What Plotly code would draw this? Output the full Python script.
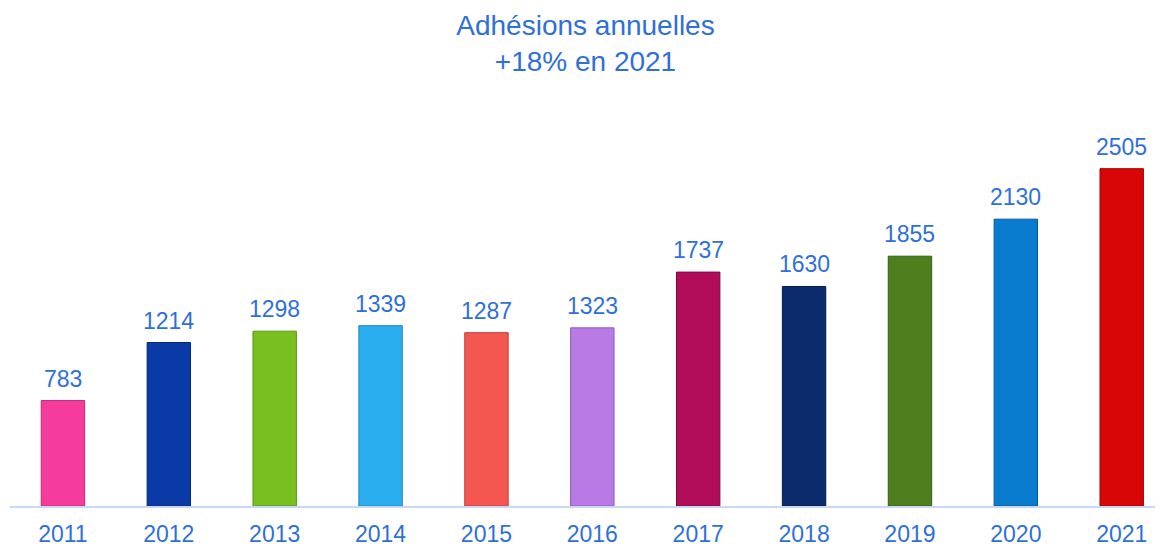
import plotly.graph_objects as go

years = ["2011", "2012", "2013", "2014", "2015", "2016", "2017", "2018", "2019", "2020", "2021"]
adhesions = [783, 1214, 1298, 1339, 1287, 1323, 1737, 1630, 1855, 2130, 2505]
bar_colors = ["#f53c9c", "#0a3aa6", "#78c020", "#2aaef0", "#f4574f", "#b97ae6",
              "#b00c5a", "#0b2a6c", "#4e7e1e", "#0a7ccf", "#d80606"]
edge_colors = ["#c02a78", "#062a7a", "#5a9416", "#1a86c0", "#c23c36", "#8e5ab8",
               "#7e0840", "#071c4c", "#375c14", "#06589a", "#9e0404"]

blue = "#2f6fd9"

fig = go.Figure(go.Bar(
    x=years,
    y=adhesions,
    width=0.41,
    marker=dict(color=bar_colors, line=dict(color=edge_colors, width=1)),
))

# value labels above the bars, with a bit more room than plotly's outside text
# (category index for x: year-like strings get read as numbers in annotations)
for i, val in enumerate(adhesions):
    fig.add_annotation(
        x=i, y=val, text=str(val), showarrow=False,
        yanchor="bottom", yshift=7,
        font=dict(color=blue, size=23, family="Liberation Sans"),
    )

# page body adds an 8px margin, so the figure is a little smaller than the window
fig.update_layout(
    width=1155, height=539,
    paper_bgcolor="white", plot_bgcolor="white",
    margin=dict(t=94, l=2, r=0, b=34),
    showlegend=False,
    title=dict(
        text="Adhésions annuelles<br>+18% en 2021",
        x=0.5, xanchor="center", y=0.95, yanchor="top",
        font=dict(color=blue, size=28, family="Liberation Sans"),
    ),
    font=dict(family="Liberation Sans"),
)
fig.update_xaxes(
    type="category", range=[-0.5, 10.39],
    showline=True, linecolor="#c8d8f6", linewidth=2,
    showgrid=False, ticks="", ticklabelstandoff=6,
    tickfont=dict(color=blue, size=23),
)
fig.update_yaxes(range=[0, 3000], visible=False, showgrid=False, zeroline=False)

fig.write_html("out.html")
